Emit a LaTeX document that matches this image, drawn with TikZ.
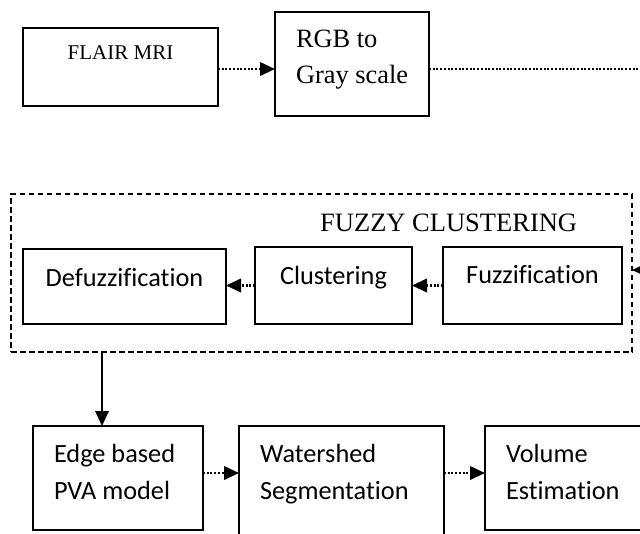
\documentclass[tikz,border=0pt]{standalone}
\usepackage{fontspec}
\setmainfont{Liberation Serif}
\newfontfamily\calfont[Ligatures=NoCommon]{Carlito}
\usetikzlibrary{arrows.meta}
\newcommand{\lp}{\hspace*{21pt}}
\begin{document}
\begin{tikzpicture}[x=1pt,y=-1pt,
  box/.style={draw, line width=1.7pt, inner sep=0pt, outer sep=0pt, anchor=north west},
  geo/.style n args={3}{text width=#1, text height=#2, text depth=#3},
  tnr/.style={font=\fontsize{26.4}{36}\selectfont},
  tnrs/.style={font=\fontsize{21}{25}\selectfont},
  cal/.style={font=\calfont\fontsize{26.3}{37.5}\selectfont},
  dotc/.style={line width=2.3pt, dash pattern=on 2pt off 1.7pt},
  tip/.style={-{Triangle[length=15pt,width=13.5pt]}},
  grp/.style={draw, line width=1.7pt, dash pattern=on 5.5pt off 3.5pt, inner sep=0pt, outer sep=0pt, anchor=north west}]
\useasboundingbox (0,0) rectangle (640,533);
\clip (0,0) rectangle (640,533);

% top row
\node[box, tnrs, align=flush center, geo={195pt}{31pt}{47pt}] (flair) at (23,28) {FLAIR MRI};
\node[box, tnr, align=flush left, geo={154pt}{35pt}{69pt}] (rgb) at (275,12) {\lp RGB to\\\lp Gray scale};

% fuzzy clustering group
\node[grp, minimum width=621pt, minimum height=158pt] (fz) at (11,194) {};
\node[anchor=base west, inner sep=0pt, font=\fontsize{26.5}{30}\selectfont] (fztitle) at (320,231) {FUZZY CLUSTERING};
\node[box, cal, align=flush center, geo={203pt}{37pt}{38pt}] (defuzz) at (23,249) {Defuzzification};
\node[box, cal, align=flush center, geo={157pt}{37pt}{40pt}] (clus) at (255,247) {Clustering};
\node[box, cal, align=flush center, geo={179pt}{36pt}{41pt}] (fuzz) at (443,247) {Fuzzification};

% bottom row
\node[box, cal, align=flush left, geo={170pt}{36pt}{68pt}] (edgeb) at (33,426) {\lp Edge based\\\lp PVA model};
\node[box, cal, align=flush left, geo={205pt}{36pt}{88pt}] (water) at (239,426) {\lp Watershed\\\lp Segmentation};
\node[box, cal, align=flush left, geo={175pt}{36pt}{68pt}] (vol) at (485,426) {\lp Volume\\\lp Estimation};

% helper coordinates
\coordinate (row1) at (0,69);
\coordinate (r1) at (660,69);
\coordinate (r2) at (660,270);
\coordinate (d1) at (102,352);
\coordinate (row3) at (0,473);

% connectors
\draw[dotc, tip] (flair.east |- row1) -- (rgb.west |- row1);
\draw[dotc, tip] (rgb.east |- row1) -- (r1) -- (r2) -- (r2 -| fz.east);
\draw[dotc, tip] (fuzz.west) -- (fuzz.west -| clus.east);
\draw[dotc, tip] (clus.west) -- (clus.west -| defuzz.east);
\draw[line width=1.8pt, tip] (d1) -- (d1 |- edgeb.north);
\draw[dotc, tip] (edgeb.east |- row3) -- (water.west |- row3);
\draw[dotc, tip] (water.east |- row3) -- (vol.west |- row3);
\end{tikzpicture}
\end{document}
